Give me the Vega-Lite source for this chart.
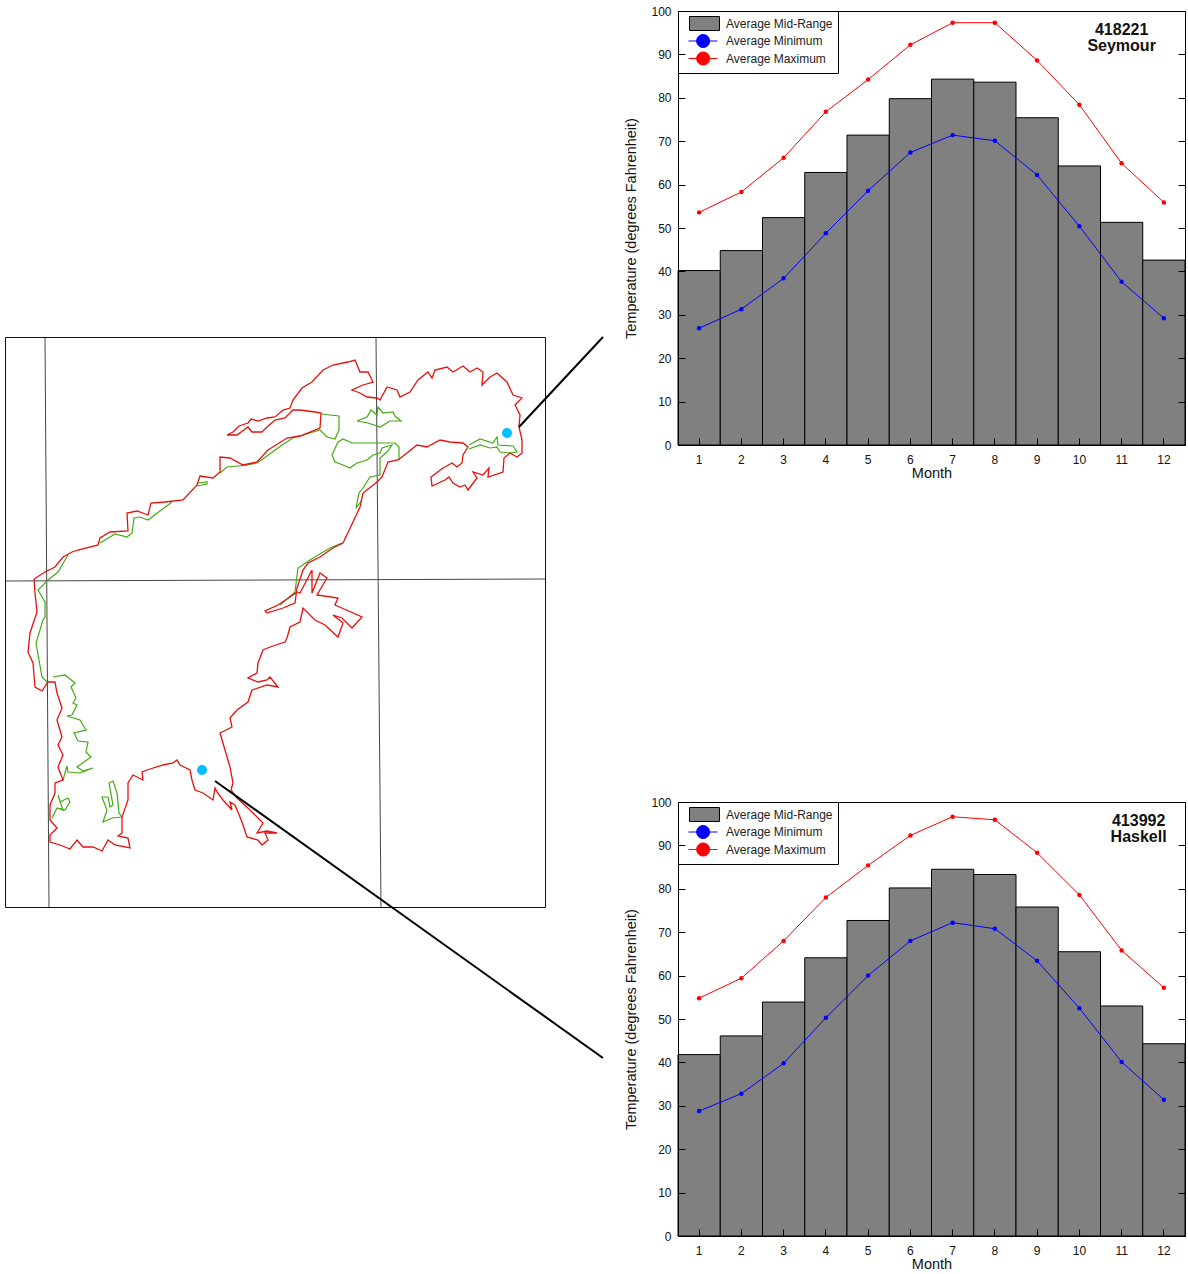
{"$schema":"https://vega.github.io/schema/vega-lite/v6.json","padding":{"left":0,"top":4,"right":0,"bottom":0},"background":"white","bounds":"flush","spacing":58,
"resolve":{"legend":{"fill":"independent","stroke":"independent","shape":"independent"},"scale":{"fill":"independent","stroke":"independent","shape":"independent"}},
"config":{"font":"Liberation Sans","axis":{"labelFont":"Liberation Sans","titleFont":"Liberation Sans","labelFontSize":12,"titleFontSize":14.5,"titleFontWeight":"normal","labelColor":"#111","titleColor":"#111","domainColor":"black","tickColor":"black","grid":false},"legend":{"labelFont":"Liberation Sans","labelFontSize":12,"labelColor":"#222"}},
"datasets":{
"outline":[{"x":227,"y":435},{"x":233,"y":432},{"x":239,"y":426},{"x":248,"y":423},{"x":251,"y":419},{"x":258,"y":421},{"x":267,"y":418},{"x":275,"y":417},{"x":283,"y":410},{"x":290,"y":408},{"x":293,"y":400},{"x":302,"y":388},{"x":312,"y":382},{"x":323,"y":370},{"x":333,"y":365},{"x":348,"y":362},{"x":355,"y":360},{"x":360,"y":372},{"x":368,"y":372},{"x":373,"y":382},{"x":363,"y":385},{"x":352,"y":390},{"x":360,"y":393},{"x":367,"y":397},{"x":377,"y":398},{"x":380,"y":400},{"x":387,"y":387},{"x":397,"y":390},{"x":400,"y":397},{"x":410,"y":392},{"x":418,"y":380},{"x":428,"y":372},{"x":432,"y":378},{"x":435,"y":370},{"x":447,"y":367},{"x":453,"y":372},{"x":463,"y":366},{"x":470,"y":372},{"x":477,"y":368},{"x":483,"y":372},{"x":482,"y":385},{"x":490,"y":377},{"x":497,"y":373},{"x":507,"y":382},{"x":513,"y":395},{"x":522,"y":398},{"x":515,"y":405},{"x":520,"y":415},{"x":519,"y":427},{"x":522,"y":440},{"x":522,"y":453},{"x":517,"y":457},{"x":510,"y":453},{"x":504,"y":458},{"x":503,"y":472},{"x":488,"y":477},{"x":489,"y":468},{"x":483,"y":475},{"x":473,"y":472},{"x":477,"y":478},{"x":468,"y":490},{"x":465,"y":485},{"x":460,"y":487},{"x":453,"y":483},{"x":449,"y":477},{"x":445,"y":480},{"x":432,"y":486},{"x":431,"y":477},{"x":443,"y":468},{"x":452,"y":463},{"x":457,"y":467},{"x":462,"y":463},{"x":463,"y":455},{"x":468,"y":447},{"x":463,"y":443},{"x":450,"y":442},{"x":440,"y":440},{"x":427,"y":447},{"x":417,"y":445},{"x":407,"y":453},{"x":398,"y":460},{"x":388,"y":462},{"x":382,"y":477},{"x":377,"y":482},{"x":363,"y":493},{"x":360,"y":507},{"x":353,"y":522},{"x":343,"y":543},{"x":333,"y":548},{"x":320,"y":557},{"x":308,"y":563},{"x":303,"y":570},{"x":297,"y":588},{"x":295,"y":603},{"x":283,"y":608},{"x":267,"y":613},{"x":265,"y":611},{"x":278,"y":605},{"x":290,"y":597},{"x":297,"y":592},{"x":300,"y":593},{"x":312,"y":570},{"x":312,"y":593},{"x":320,"y":573},{"x":327,"y":578},{"x":317,"y":595},{"x":338,"y":598},{"x":335,"y":605},{"x":362,"y":617},{"x":352,"y":628},{"x":342,"y":618},{"x":333,"y":615},{"x":343,"y":623},{"x":338,"y":637},{"x":325,"y":625},{"x":315,"y":620},{"x":303,"y":608},{"x":300,"y":622},{"x":290,"y":627},{"x":287,"y":638},{"x":285,"y":642},{"x":270,"y":647},{"x":263,"y":650},{"x":258,"y":663},{"x":257,"y":673},{"x":248,"y":678},{"x":258,"y":682},{"x":267,"y":680},{"x":270,"y":677},{"x":278,"y":687},{"x":267,"y":685},{"x":252,"y":690},{"x":248,"y":702},{"x":237,"y":710},{"x":230,"y":718},{"x":232,"y":727},{"x":220,"y":733},{"x":225,"y":750},{"x":230,"y":767},{"x":233,"y":783},{"x":231,"y":790},{"x":237,"y":798},{"x":250,"y":810},{"x":263,"y":823},{"x":257,"y":833},{"x":267,"y":831},{"x":277,"y":833},{"x":265,"y":833},{"x":268,"y":840},{"x":262,"y":845},{"x":258,"y":840},{"x":247,"y":837},{"x":242,"y":822},{"x":235,"y":805},{"x":230,"y":802},{"x":232,"y":810},{"x":223,"y":800},{"x":217,"y":792},{"x":215,"y":788},{"x":213,"y":800},{"x":203,"y":793},{"x":195,"y":790},{"x":192,"y":780},{"x":190,"y":770},{"x":180,"y":765},{"x":177,"y":760},{"x":173,"y":763},{"x":163,"y":765},{"x":147,"y":770},{"x":142,"y":772},{"x":143,"y":780},{"x":133,"y":775},{"x":128,"y":783},{"x":128,"y":800},{"x":122,"y":817},{"x":122,"y":833},{"x":118,"y":836},{"x":128,"y":838},{"x":130,"y":848},{"x":115,"y":845},{"x":108,"y":840},{"x":102,"y":851},{"x":93,"y":847},{"x":83,"y":847},{"x":77,"y":840},{"x":70,"y":849},{"x":60,"y":845},{"x":50,"y":842},{"x":50,"y":835},{"x":57,"y":828},{"x":50,"y":820},{"x":50,"y":805},{"x":55,"y":793},{"x":55,"y":783},{"x":63,"y":780},{"x":58,"y":767},{"x":63,"y":755},{"x":58,"y":745},{"x":62,"y":737},{"x":57,"y":720},{"x":62,"y":708},{"x":57,"y":693},{"x":55,"y":682},{"x":48,"y":682},{"x":42,"y":691},{"x":35,"y":687},{"x":33,"y":663},{"x":28,"y":652},{"x":30,"y":633},{"x":37,"y":612},{"x":35,"y":593},{"x":34,"y":579},{"x":45,"y":572},{"x":55,"y":567},{"x":63,"y":557},{"x":72,"y":552},{"x":78,"y":550},{"x":98,"y":545},{"x":100,"y":538},{"x":110,"y":532},{"x":128,"y":531},{"x":127,"y":513},{"x":137,"y":511},{"x":148,"y":515},{"x":151,"y":503},{"x":165,"y":502},{"x":183,"y":500},{"x":197,"y":485},{"x":200,"y":476},{"x":213,"y":478},{"x":220,"y":472},{"x":220,"y":457},{"x":230,"y":458},{"x":243,"y":465},{"x":257,"y":462},{"x":268,"y":450},{"x":287,"y":438},{"x":300,"y":436},{"x":320,"y":428},{"x":321,"y":413},{"x":315,"y":412},{"x":300,"y":410},{"x":293,"y":410},{"x":285,"y":418},{"x":275,"y":420},{"x":267,"y":427},{"x":262,"y":432},{"x":252,"y":432},{"x":248,"y":427},{"x":237,"y":435},{"x":227,"y":435}],
"green":[{"s":"a","x":68,"y":555},{"s":"a","x":58,"y":572},{"s":"a","x":48,"y":580},{"s":"a","x":38,"y":590},{"s":"a","x":45,"y":602},{"s":"a","x":45,"y":617},{"s":"a","x":43,"y":620},{"s":"a","x":36,"y":643},{"s":"a","x":42,"y":677},{"s":"a","x":48,"y":683},
{"s":"b","x":100,"y":543},{"s":"b","x":115,"y":534},{"s":"b","x":127,"y":537},{"s":"b","x":132,"y":533},{"s":"b","x":134,"y":518},{"s":"b","x":140,"y":517},{"s":"b","x":148,"y":520},{"s":"b","x":172,"y":502},
{"s":"c","x":198,"y":483},{"s":"c","x":207,"y":482},{"s":"c","x":207,"y":484},{"s":"c","x":197,"y":486},
{"s":"d","x":220,"y":473},{"s":"d","x":227,"y":467},{"s":"d","x":248,"y":465},{"s":"d","x":257,"y":463},{"s":"d","x":267,"y":456},{"s":"d","x":282,"y":445},{"s":"d","x":293,"y":438},{"s":"d","x":300,"y":436},{"s":"d","x":320,"y":430},{"s":"d","x":327,"y":437},{"s":"d","x":335,"y":439},{"s":"d","x":339,"y":430},{"s":"d","x":339,"y":416},{"s":"d","x":330,"y":415},{"s":"d","x":321,"y":414},
{"s":"e","x":357,"y":421},{"s":"e","x":367,"y":417},{"s":"e","x":371,"y":410},{"s":"e","x":377,"y":415},{"s":"e","x":378,"y":407},{"s":"e","x":383,"y":413},{"s":"e","x":393,"y":412},{"s":"e","x":395,"y":416},{"s":"e","x":401,"y":421},{"s":"e","x":390,"y":421},{"s":"e","x":380,"y":427},{"s":"e","x":368,"y":423},{"s":"e","x":357,"y":421},
{"s":"f","x":399,"y":460},{"s":"f","x":399,"y":447},{"s":"f","x":395,"y":443},{"s":"f","x":352,"y":443},{"s":"f","x":343,"y":439},{"s":"f","x":338,"y":442},{"s":"f","x":332,"y":455},{"s":"f","x":335,"y":462},{"s":"f","x":343,"y":465},{"s":"f","x":350,"y":468},{"s":"f","x":357,"y":463},{"s":"f","x":367,"y":460},{"s":"f","x":373,"y":455},{"s":"f","x":380,"y":453},{"s":"f","x":382,"y":448},{"s":"f","x":392,"y":445},{"s":"f","x":387,"y":452},{"s":"f","x":380,"y":458},{"s":"f","x":380,"y":475},{"s":"f","x":370,"y":477},{"s":"f","x":363,"y":488},{"s":"f","x":359,"y":493},{"s":"f","x":356,"y":508},{"s":"f","x":362,"y":500},
{"s":"g","x":342,"y":543},{"s":"g","x":330,"y":548},{"s":"g","x":310,"y":560},{"s":"g","x":298,"y":568},{"s":"g","x":295,"y":592},{"s":"g","x":280,"y":605},
{"s":"h","x":469,"y":445},{"s":"h","x":480,"y":439},{"s":"h","x":493,"y":443},{"s":"h","x":497,"y":437},{"s":"h","x":498,"y":445},{"s":"h","x":513,"y":446},{"s":"h","x":517,"y":452},{"s":"h","x":510,"y":453},{"s":"h","x":500,"y":452},{"s":"h","x":497,"y":447},{"s":"h","x":490,"y":448},{"s":"h","x":480,"y":445},{"s":"h","x":469,"y":449},
{"s":"i","x":53,"y":677},{"s":"i","x":65,"y":675},{"s":"i","x":75,"y":683},{"s":"i","x":71,"y":687},{"s":"i","x":76,"y":698},{"s":"i","x":73,"y":703},{"s":"i","x":77,"y":705},{"s":"i","x":72,"y":715},{"s":"i","x":67,"y":716},{"s":"i","x":80,"y":720},{"s":"i","x":86,"y":730},{"s":"i","x":74,"y":733},{"s":"i","x":78,"y":741},{"s":"i","x":88,"y":742},{"s":"i","x":86,"y":752},{"s":"i","x":91,"y":757},{"s":"i","x":77,"y":767},{"s":"i","x":83,"y":771},{"s":"i","x":93,"y":768},{"s":"i","x":80,"y":773},{"s":"i","x":68,"y":772},{"s":"i","x":67,"y":766},{"s":"i","x":63,"y":780},
{"s":"j","x":52,"y":818},{"s":"j","x":57,"y":808},{"s":"j","x":63,"y":810},{"s":"j","x":58,"y":795},{"s":"j","x":60,"y":802},{"s":"j","x":68,"y":798},{"s":"j","x":70,"y":802},{"s":"j","x":65,"y":810},{"s":"j","x":58,"y":808},
{"s":"k","x":122,"y":817},{"s":"k","x":112,"y":818},{"s":"k","x":103,"y":822},{"s":"k","x":107,"y":810},{"s":"k","x":102,"y":797},{"s":"k","x":108,"y":797},{"s":"k","x":110,"y":807},{"s":"k","x":113,"y":805},{"s":"k","x":109,"y":783},{"s":"k","x":113,"y":781},{"s":"k","x":117,"y":793},{"s":"k","x":119,"y":813},{"s":"k","x":122,"y":817}],
"grid":[{"s":"v1","x":45,"y":337},{"s":"v1","x":49,"y":907},{"s":"v2","x":376,"y":337},{"s":"v2","x":381,"y":907},{"s":"h1","x":5,"y":581},{"s":"h1","x":545,"y":579}],
"frame":[{"x":5.5,"y":337.5},{"x":545.5,"y":337.5},{"x":545.5,"y":907.5},{"x":5.5,"y":907.5},{"x":5.5,"y":337.5}],
"leaders":[{"s":"Seymour","x":519,"y":427},{"s":"Seymour","x":603,"y":337},{"s":"Haskell","x":215,"y":781},{"s":"Haskell","x":603,"y":1058}],
"stationsites":[{"s":"Seymour","x":507,"y":433},{"s":"Haskell","x":202,"y":770}],
"seymour":[{"month":1,"mid":40.2,"min":26.9,"max":53.6},{"month":2,"mid":44.8,"min":31.3,"max":58.3},{"month":3,"mid":52.4,"min":38.4,"max":66.2},{"month":4,"mid":62.8,"min":48.8,"max":76.8},{"month":5,"mid":71.4,"min":58.6,"max":84.2},{"month":6,"mid":79.8,"min":67.4,"max":92.2},{"month":7,"mid":84.3,"min":71.4,"max":97.3},{"month":8,"mid":83.6,"min":70.1,"max":97.3},{"month":9,"mid":75.4,"min":62.2,"max":88.6},{"month":10,"mid":64.3,"min":50.4,"max":78.4},{"month":11,"mid":51.3,"min":37.6,"max":64.9},{"month":12,"mid":42.6,"min":29.2,"max":55.9}],
"haskell":[{"month":1,"mid":41.8,"min":28.8,"max":54.8},{"month":2,"mid":46.1,"min":32.8,"max":59.4},{"month":3,"mid":53.9,"min":39.8,"max":68.0},{"month":4,"mid":64.1,"min":50.3,"max":78.0},{"month":5,"mid":72.7,"min":60.0,"max":85.4},{"month":6,"mid":80.2,"min":68.0,"max":92.3},{"month":7,"mid":84.5,"min":72.2,"max":96.6},{"month":8,"mid":83.3,"min":70.8,"max":95.9},{"month":9,"mid":75.8,"min":63.4,"max":88.3},{"month":10,"mid":65.5,"min":52.5,"max":78.6},{"month":11,"mid":53.0,"min":40.1,"max":65.8},{"month":12,"mid":44.3,"min":31.4,"max":57.2}]
},
"hconcat":[
{"width":620,"height":1225,"view":{"stroke":null},
"encoding":{"x":{"field":"x","type":"quantitative","scale":{"domain":[0,620],"nice":false,"zero":false},"axis":null},"y":{"field":"y","type":"quantitative","scale":{"domain":[1236,11],"nice":false,"zero":false},"axis":null}},
"layer":[
{"data":{"name":"grid"},"mark":{"type":"line","order":false,"color":"#444444","strokeWidth":1},"encoding":{"detail":{"field":"s"}}},
{"data":{"name":"frame"},"mark":{"type":"line","order":false,"color":"#3a0000","strokeWidth":1},"encoding":{}},
{"data":{"name":"green"},"mark":{"type":"line","order":false,"color":"#44aa11","strokeWidth":1.2},"encoding":{"detail":{"field":"s"}}},
{"data":{"name":"outline"},"mark":{"type":"line","order":false,"color":"#e8100c","strokeWidth":1.3},"encoding":{}},
{"data":{"name":"leaders"},"mark":{"type":"line","order":false,"color":"black","strokeWidth":2},"encoding":{"detail":{"field":"s"}}},
{"data":{"name":"stationsites"},"mark":{"type":"point","filled":true,"opacity":1,"color":"#00bfff","size":100},"encoding":{}}
]},
{"bounds":"flush","spacing":357,"resolve":{"legend":{"fill":"independent","stroke":"independent","shape":"independent"},"scale":{"fill":"independent","stroke":"independent","shape":"independent"}},"vconcat":[
{"width":507,"height":434,"view":{"stroke":"black"},"data":{"name":"seymour"},
"encoding":{"x":{"field":"month","type":"ordinal","title":"Month","scale":{"paddingInner":0,"paddingOuter":0},"axis":{"labelAngle":0,"tickSize":-7,"labelPadding":16,"titlePadding":1,"zindex":1}},"y":{"type":"quantitative","scale":{"domain":[0,100],"nice":false}}},
"layer":[
{"mark":{"type":"bar","fill":"#808080","stroke":"black","strokeWidth":1},"encoding":{"y":{"field":"mid","type":"quantitative","title":"Temperature (degrees Fahrenheit)","scale":{"domain":[0,100],"nice":false},"axis":{"orient":"left","values":[0,10,20,30,40,50,60,70,80,90,100],"tickSize":-7,"labelPadding":14,"titlePadding":12,"zindex":1}}}},
{"mark":{"type":"line","color":"#0000ff","strokeWidth":1,"point":{"filled":true,"size":20,"color":"#0000ff"}},"encoding":{"y":{"field":"min","type":"quantitative","axis":null}}},
{"mark":{"type":"line","color":"#ff0000","strokeWidth":1,"point":{"filled":true,"size":20,"color":"#ff0000"}},"encoding":{"y":{"field":"max","type":"quantitative","axis":null}}},
{"data":{"values":[{"month":11,"value":95.6,"label":"418221"},{"month":11,"value":92,"label":"Seymour"}]},"mark":{"type":"text","fontSize":16,"fontWeight":"bold","color":"#111","font":"Liberation Sans"},"encoding":{"y":{"field":"value","type":"quantitative","axis":null},"text":{"field":"label"}}},
{"data":{"values":[{"month":1,"value":0,"series":"Average Mid-Range"},{"month":1,"value":0,"series":"Average Minimum"},{"month":1,"value":0,"series":"Average Maximum"}]},"transform":[{"filter":"datum.value > 100"}],"mark":{"type":"point","filled":true,"strokeWidth":1,"opacity":1},"encoding":{"y":{"field":"value","type":"quantitative","axis":null},
"fill":{"field":"series","type":"nominal","scale":{"domain":["Average Mid-Range","Average Minimum","Average Maximum"],"range":["#808080","#0000ff","#ff0000"]},"legend":{"title":null,"orient":"top-left","offset":0,"padding":5,"fillColor":"white","strokeColor":"black","labelOffset":28,"symbolSize":196,"rowPadding":-1.5,"labelLimit":200,"symbolStrokeWidth":1}},
"stroke":{"field":"series","type":"nominal","scale":{"domain":["Average Mid-Range","Average Minimum","Average Maximum"],"range":["#000000","#0000ff","#ff0000"]},"legend":{"title":null,"orient":"top-left","offset":0,"padding":5,"fillColor":"white","strokeColor":"black","labelOffset":28,"symbolSize":196,"rowPadding":-1.5,"labelLimit":200,"symbolStrokeWidth":1}},
"shape":{"field":"series","type":"nominal","scale":{"domain":["Average Mid-Range","Average Minimum","Average Maximum"],"range":["M-0.14,-1H4.14V1H-0.14Z","M-0.29,0H0.88M2.74,0H3.86M2.74,0A0.93,0.93 0 1 1 0.88,0A0.93,0.93 0 1 1 2.74,0Z","M-0.29,0H0.88M2.74,0H3.86M2.74,0A0.93,0.93 0 1 1 0.88,0A0.93,0.93 0 1 1 2.74,0Z"]},"legend":{"title":null,"orient":"top-left","offset":0,"padding":5,"fillColor":"white","strokeColor":"black","labelOffset":28,"symbolSize":196,"rowPadding":-1.5,"labelLimit":200,"symbolStrokeWidth":1}}}},
{"mark":{"type":"bar","opacity":0},"encoding":{"y":{"field":"mid","type":"quantitative","title":null,"scale":{"domain":[0,100],"nice":false},"axis":{"orient":"right","values":[0,10,20,30,40,50,60,70,80,90,100],"tickSize":-7,"labels":false,"zindex":1,"title":null}}}}
],"resolve":{"axis":{"y":"independent"},"scale":{"y":"shared"}}},
{"width":507,"height":434,"view":{"stroke":"black"},"data":{"name":"haskell"},
"encoding":{"x":{"field":"month","type":"ordinal","title":"Month","scale":{"paddingInner":0,"paddingOuter":0},"axis":{"labelAngle":0,"tickSize":-7,"labelPadding":16,"titlePadding":1,"zindex":1}},"y":{"type":"quantitative","scale":{"domain":[0,100],"nice":false}}},
"layer":[
{"mark":{"type":"bar","fill":"#808080","stroke":"black","strokeWidth":1},"encoding":{"y":{"field":"mid","type":"quantitative","title":"Temperature (degrees Fahrenheit)","scale":{"domain":[0,100],"nice":false},"axis":{"orient":"left","values":[0,10,20,30,40,50,60,70,80,90,100],"tickSize":-7,"labelPadding":14,"titlePadding":12,"zindex":1}}}},
{"mark":{"type":"line","color":"#0000ff","strokeWidth":1,"point":{"filled":true,"size":20,"color":"#0000ff"}},"encoding":{"y":{"field":"min","type":"quantitative","axis":null}}},
{"mark":{"type":"line","color":"#ff0000","strokeWidth":1,"point":{"filled":true,"size":20,"color":"#ff0000"}},"encoding":{"y":{"field":"max","type":"quantitative","axis":null}}},
{"data":{"values":[{"month":11,"value":95.6,"label":"413992"},{"month":11,"value":92,"label":"Haskell"}]},"mark":{"type":"text","fontSize":16,"fontWeight":"bold","color":"#111","font":"Liberation Sans","xOffset":17},"encoding":{"y":{"field":"value","type":"quantitative","axis":null},"text":{"field":"label"}}},
{"data":{"values":[{"month":1,"value":0,"series":"Average Mid-Range"},{"month":1,"value":0,"series":"Average Minimum"},{"month":1,"value":0,"series":"Average Maximum"}]},"transform":[{"filter":"datum.value > 100"}],"mark":{"type":"point","filled":true,"strokeWidth":1,"opacity":1},"encoding":{"y":{"field":"value","type":"quantitative","axis":null},
"fill":{"field":"series","type":"nominal","scale":{"domain":["Average Mid-Range","Average Minimum","Average Maximum"],"range":["#808080","#0000ff","#ff0000"]},"legend":{"title":null,"orient":"top-left","offset":0,"padding":5,"fillColor":"white","strokeColor":"black","labelOffset":28,"symbolSize":196,"rowPadding":-1.5,"labelLimit":200,"symbolStrokeWidth":1}},
"stroke":{"field":"series","type":"nominal","scale":{"domain":["Average Mid-Range","Average Minimum","Average Maximum"],"range":["#000000","#0000ff","#ff0000"]},"legend":{"title":null,"orient":"top-left","offset":0,"padding":5,"fillColor":"white","strokeColor":"black","labelOffset":28,"symbolSize":196,"rowPadding":-1.5,"labelLimit":200,"symbolStrokeWidth":1}},
"shape":{"field":"series","type":"nominal","scale":{"domain":["Average Mid-Range","Average Minimum","Average Maximum"],"range":["M-0.14,-1H4.14V1H-0.14Z","M-0.29,0H0.88M2.74,0H3.86M2.74,0A0.93,0.93 0 1 1 0.88,0A0.93,0.93 0 1 1 2.74,0Z","M-0.29,0H0.88M2.74,0H3.86M2.74,0A0.93,0.93 0 1 1 0.88,0A0.93,0.93 0 1 1 2.74,0Z"]},"legend":{"title":null,"orient":"top-left","offset":0,"padding":5,"fillColor":"white","strokeColor":"black","labelOffset":28,"symbolSize":196,"rowPadding":-1.5,"labelLimit":200,"symbolStrokeWidth":1}}}},
{"mark":{"type":"bar","opacity":0},"encoding":{"y":{"field":"mid","type":"quantitative","title":null,"scale":{"domain":[0,100],"nice":false},"axis":{"orient":"right","values":[0,10,20,30,40,50,60,70,80,90,100],"tickSize":-7,"labels":false,"zindex":1,"title":null}}}}
],"resolve":{"axis":{"y":"independent"},"scale":{"y":"shared"}}}
]}
]}
